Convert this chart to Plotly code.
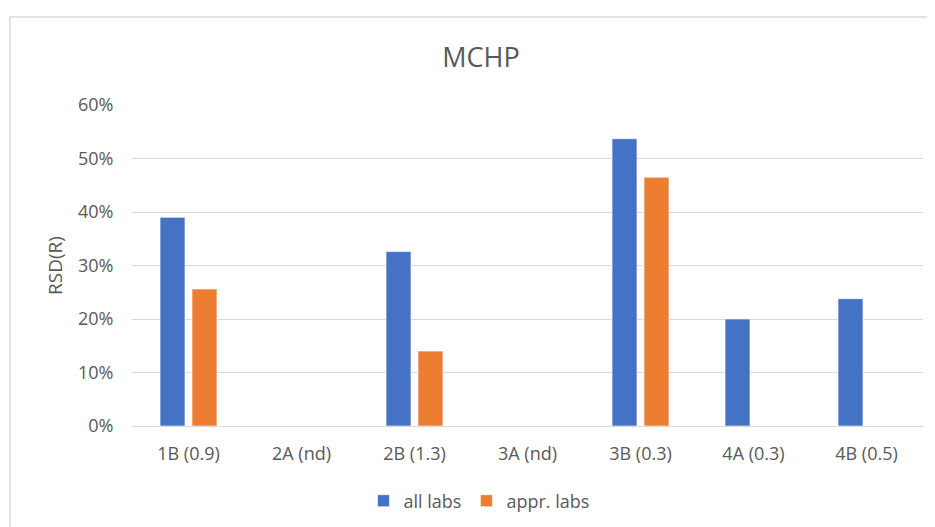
import plotly.graph_objects as go

categories = ["1B (0.9)", "2A (nd)", "2B (1.3)", "3A (nd)", "3B (0.3)", "4A (0.3)", "4B (0.5)"]
all_labs = [0.390, None, 0.326, None, 0.537, 0.200, 0.238]
appr_labs = [0.256, None, 0.140, None, 0.465, None, None]

FONT = "Open Sans"
GREY = "#595959"
OFF = 8  # page body margin offset

L, T, PW, PH = 132 - OFF, 105 - OFF, 791, 321
W, H = 935, 527

fig = go.Figure()
fig.add_trace(go.Bar(name="all labs", x=categories, y=all_labs,
                     marker=dict(color="#4472C4", line=dict(color="rgba(255,255,255,0.6)", width=1))))
fig.add_trace(go.Bar(name="appr. labs", x=categories, y=appr_labs,
                     marker=dict(color="#ED7D31", line=dict(color="rgba(255,255,255,0.6)", width=1))))

fig.update_layout(
    width=W, height=H,
    margin=dict(l=L, r=W - L - PW, t=T, b=H - T - PH),
    paper_bgcolor="white", plot_bgcolor="white",
    barmode="group", bargap=0.434, bargroupgap=0.22,
    font=dict(family=FONT, color=GREY, size=17),
    title=dict(text="MCHP", x=(481 - OFF) / W, xref="container", xanchor="center",
               y=1 - (58 - OFF) / H, yref="container", yanchor="middle",
               font=dict(family=FONT, size=27, color=GREY)),
    showlegend=True,
    legend=dict(orientation="h", x=(479 - OFF) / W, xref="container", xanchor="center",
                y=1 - (501 - OFF) / H, yref="container", yanchor="middle",
                font=dict(family=FONT, size=18, color=GREY),
                itemwidth=30, tracegroupgap=0),
    shapes=[dict(type="rect", xref="paper", yref="paper",
                 x0=(10 - 132) / PW, x1=(950 - 132) / PW,
                 y0=(426 - 545) / PH, y1=(426 - 17) / PH,
                 line=dict(color="#d9d9d9", width=1.5), fillcolor="rgba(0,0,0,0)", layer="below")],
)

fig.update_yaxes(range=[0, 0.6], dtick=0.1, tickformat=".0%",
                 showgrid=True, gridcolor="#d9d9d9", gridwidth=1.2,
                 zeroline=True, zerolinecolor="#d9d9d9", zerolinewidth=1.2,
                 showline=False, ticks="outside", ticklen=14, tickcolor="rgba(0,0,0,0)",
                 tickfont=dict(family=FONT, size=18, color=GREY),
                 title=dict(text="RSD(R)", standoff=10, font=dict(family=FONT, size=19, color=GREY)))
fig.update_xaxes(showgrid=False, showline=False, ticks="outside", ticklen=11,
                 tickcolor="rgba(0,0,0,0)",
                 tickfont=dict(family=FONT, size=18, color=GREY))

fig.write_html("out.html")
